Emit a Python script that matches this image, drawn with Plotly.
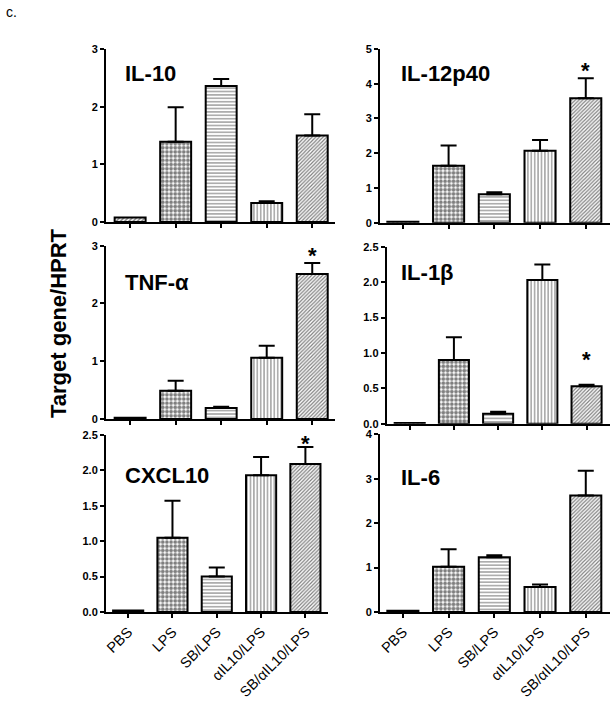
import plotly.graph_objects as go

W, H = 614, 704

categories = ["PBS", "LPS", "SB/LPS", "αIL10/LPS", "SB/αIL10/LPS"]

il10 = [0.08, 1.39, 2.36, 0.33, 1.50]
il10_err = [0.0, 0.60, 0.12, 0.03, 0.37]

il12p40 = [0.03, 1.64, 0.82, 2.07, 3.58]
il12p40_err = [0.0, 0.58, 0.06, 0.31, 0.58]

tnfa = [0.02, 0.49, 0.19, 1.06, 2.51]
tnfa_err = [0.0, 0.17, 0.02, 0.21, 0.19]

il1b = [0.01, 0.90, 0.14, 2.03, 0.53]
il1b_err = [0.0, 0.32, 0.03, 0.22, 0.02]

cxcl10 = [0.02, 1.05, 0.50, 1.93, 2.09]
cxcl10_err = [0.0, 0.52, 0.13, 0.26, 0.24]

il6 = [0.03, 1.02, 1.23, 0.56, 2.62]
il6_err = [0.0, 0.39, 0.05, 0.06, 0.56]

panel_titles = ["IL-10", "IL-12p40", "TNF-α", "IL-1β", "CXCL10", "IL-6"]
panel_values = [il10, il12p40, tnfa, il1b, cxcl10, il6]
panel_errors = [il10_err, il12p40_err, tnfa_err, il1b_err, cxcl10_err, il6_err]
panel_ymax = [3, 5, 3, 2.5, 2.5, 4]
panel_dtick = [1, 1, 1, 0.5, 0.5, 1]
star_panels = [False, True, True, True, True, False]

# layout (pixels): x0, x1, ytop, ybottom, xrange
geom = [
    (106, 335, 49, 222, [-0.53, 4.5]),
    (380, 610, 49, 222.7, [-0.5, 4.53]),
    (106, 335, 245.7, 419, [-0.53, 4.5]),
    (386.7, 610, 246.7, 423.7, [-0.52, 4.53]),
    (106, 328, 435, 612, [-0.5, 4.51]),
    (380, 610, 434.3, 612, [-0.5, 4.53]),
]
title_pos = [(123, 73), (399, 73), (123, 282), (399, 273), (123, 475), (399, 477)]
star_shift = [0, 8, 8, 25, 4, 0]

patterns = [
    dict(shape="/", size=3, solidity=0.5),
    dict(shape=".", size=4.2, solidity=0.62),
    dict(shape="-", size=3.4, solidity=0.32),
    dict(shape="|", size=3.4, solidity=0.32),
    dict(shape="/", size=2.6, solidity=0.45),
]

FONT = "Arial, 'Liberation Sans', sans-serif"

fig = go.Figure()
annotations = []

for i in range(6):
    ax = "" if i == 0 else str(i + 1)
    xa, ya = "x" + ax, "y" + ax
    vals, errs = panel_values[i], panel_errors[i]
    for j, cat in enumerate(categories):
        fig.add_trace(go.Bar(
            x=[cat], y=[vals[j]], xaxis=xa, yaxis=ya, width=0.68,
            marker=dict(color="white", line=dict(color="black", width=2),
                        pattern=dict(fgcolor="black", bgcolor="white", fillmode="overlay", **patterns[j])),
            error_y=dict(type="data", symmetric=False, array=[errs[j]], arrayminus=[0],
                         color="black", thickness=2, width=8, visible=errs[j] > 0),
            showlegend=False, hoverinfo="skip",
        ))
    x0, x1, yt, yb, xr = geom[i]
    bottom = i >= 4
    fig.layout["xaxis" + ax] = dict(
        domain=[x0 / W, x1 / W], anchor=ya, range=xr, type="category",
        categoryorder="array", categoryarray=categories, automargin=False,
        showline=True, linecolor="black", linewidth=2, ticks="outside", ticklen=4,
        tickwidth=2, tickcolor="black", showticklabels=bottom, tickangle=-45,
        tickfont=dict(family=FONT, size=14.5, color="black"), showgrid=False, zeroline=False,
    )
    fig.layout["yaxis" + ax] = dict(
        domain=[1 - yb / H, 1 - yt / H], anchor=xa, range=[0, panel_ymax[i]],
        dtick=panel_dtick[i], tick0=0, tickformat=".1f" if panel_dtick[i] < 1 else "d",
        automargin=False,
        showline=True, linecolor="black", linewidth=2, ticks="outside", ticklen=4,
        tickwidth=2, tickcolor="black",
        tickfont=dict(family=FONT, size=11, color="black", weight="bold"),
        showgrid=False, zeroline=False,
    )
    tx, ty = title_pos[i]
    annotations.append(dict(
        text="<b>%s</b>" % panel_titles[i], xref="paper", yref="paper",
        x=tx / W, y=1 - ty / H, xanchor="left", yanchor="middle", showarrow=False,
        font=dict(family=FONT, size=22, color="black"),
    ))
    if star_panels[i]:
        annotations.append(dict(
            text="<b>*</b>", xref=xa, yref=ya, x=categories[4], y=vals[4] + errs[4],
            xanchor="center", yanchor="middle", yshift=star_shift[i], showarrow=False,
            font=dict(family=FONT, size=22, color="black"),
        ))

annotations.append(dict(
    text="<b>Target gene/HPRT</b>", xref="paper", yref="paper", x=59 / W, y=1 - 323 / H,
    xanchor="center", yanchor="middle", textangle=-90, showarrow=False,
    font=dict(family=FONT, size=22, color="black"),
))
annotations.append(dict(
    text="c.", xref="paper", yref="paper", x=4 / W, y=1 - 12 / H,
    xanchor="left", yanchor="middle", showarrow=False,
    font=dict(family=FONT, size=14, color="black"),
))

fig.update_layout(
    width=W, height=H, margin=dict(l=0, r=0, t=0, b=0, autoexpand=False),
    paper_bgcolor="white", plot_bgcolor="white", barmode="overlay",
    annotations=annotations, font=dict(family=FONT, color="black"),
)

fig.write_html("out.html", config={"displayModeBar": False},
               post_script="document.body.style.margin='0';document.body.style.overflow='hidden';")
